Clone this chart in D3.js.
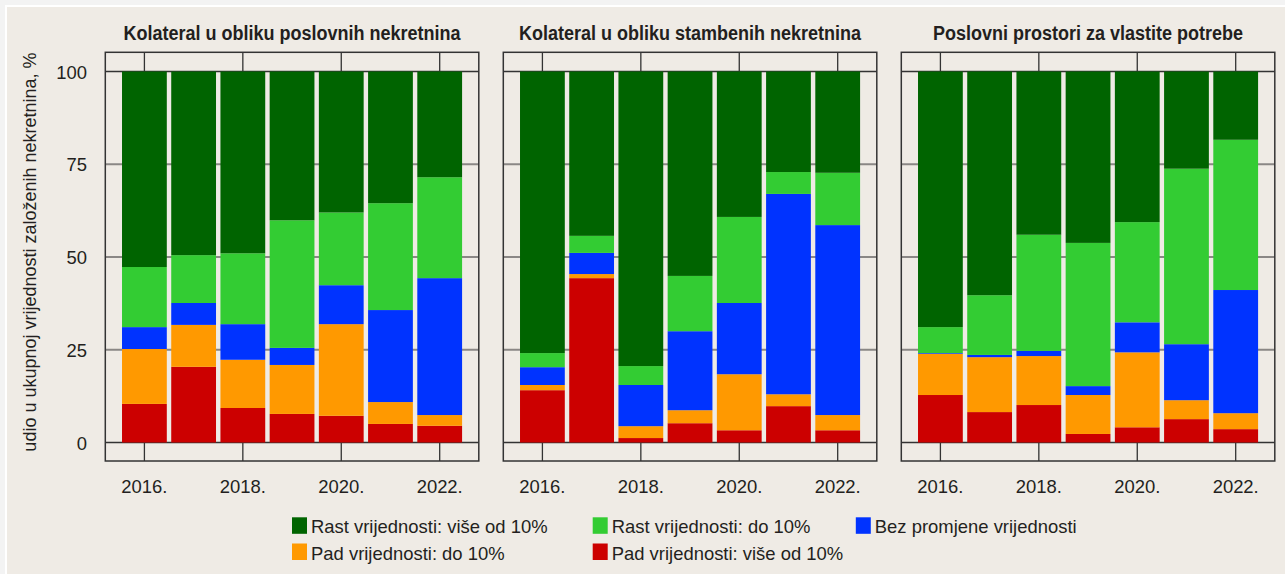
<!DOCTYPE html>
<html>
<head>
<meta charset="utf-8">
<script src="https://cdn.jsdelivr.net/npm/d3@7"></script>
<style>
  body { margin: 0; background: #f3f3f3; }
  svg { display: block; }
  text { font-family: 'Liberation Sans', Arial, sans-serif; fill: #231f20; }
</style>
</head>
<body>
<script>
// data, % share per category, bottom to top
var years = ["2016.", "2017.", "2018.", "2019.", "2020.", "2021.", "2022."];
var yTicks = [0, 25, 50, 75, 100];
var xTickYears = ["2016.", "2018.", "2020.", "2022."];

var panelTitles = [
  "Kolateral u obliku poslovnih nekretnina",
  "Kolateral u obliku stambenih nekretnina",
  "Poslovni prostori za vlastite potrebe"
];

var seriesNames = [
  "Pad vrijednosti: više od 10%",
  "Pad vrijednosti: do 10%",
  "Bez promjene vrijednosti",
  "Rast vrijednosti: do 10%",
  "Rast vrijednosti: više od 10%"
];
var seriesColors = ["#cc0000", "#ff9900", "#0033ff", "#33cc33", "#006400"];

// panel 1 - poslovne nekretnine
var p1Red    = [10.4, 20.4, 9.3, 7.7, 7.2, 5.0, 4.5];
var p1Orange = [14.8, 11.3, 13.0, 13.2, 24.7, 5.9, 2.9];
var p1Blue   = [5.9, 5.9, 9.6, 4.6, 10.5, 24.8, 36.9];
var p1LGreen = [16.2, 12.9, 19.1, 34.4, 19.6, 28.8, 27.2];
var p1DGreen = [52.7, 49.5, 49.0, 40.1, 38.0, 35.5, 28.5];

// panel 2 - stambene nekretnine
var p2Red    = [14.1, 44.3, 1.2, 5.2, 3.3, 9.8, 3.3];
var p2Orange = [1.4, 1.1, 3.2, 3.5, 15.1, 3.2, 4.1];
var p2Blue   = [4.8, 5.7, 11.1, 21.3, 19.2, 54.0, 51.2];
var p2LGreen = [3.8, 4.6, 5.1, 14.9, 23.2, 5.9, 14.1];
var p2DGreen = [75.9, 44.3, 79.4, 55.1, 39.2, 27.1, 27.3];

// panel 3 - poslovni prostori za vlastite potrebe
var p3Red    = [12.8, 8.2, 10.1, 2.3, 4.1, 6.3, 3.6];
var p3Orange = [11.1, 14.8, 13.2, 10.5, 20.2, 5.1, 4.3];
var p3Blue   = [0.2, 0.6, 1.4, 2.4, 8.1, 15.1, 33.2];
var p3LGreen = [7.0, 16.1, 31.3, 38.6, 27.0, 47.3, 40.5];
var p3DGreen = [68.9, 60.3, 44.0, 46.2, 40.6, 26.2, 18.4];

var panelsData = [
  [p1Red, p1Orange, p1Blue, p1LGreen, p1DGreen],
  [p2Red, p2Orange, p2Blue, p2LGreen, p2DGreen],
  [p3Red, p3Orange, p3Blue, p3LGreen, p3DGreen]
];

var width = 1285, height = 574;

var svg = d3.select("body").append("svg")
  .attr("width", width)
  .attr("height", height);

svg.append("rect")
  .attr("x", 5).attr("y", 5)
  .attr("width", width - 5).attr("height", height - 5)
  .attr("fill", "#ffffff");
svg.append("rect")
  .attr("x", 7).attr("y", 7)
  .attr("width", width - 7).attr("height", height - 7)
  .attr("fill", "#efebe5");

// squeeze text a little, the original uses a condensed face
var condense = function(sel, k) {
  sel.each(function() {
    var len = this.getComputedTextLength();
    d3.select(this).attr("textLength", len * k).attr("lengthAdjust", "spacingAndGlyphs");
  });
};

var panelW = 373.5;
var panelX = [105.3, 503.3, 901.3];
var frameTop = 52.3, frameBottom = 461;
var plotTop = 71.5, plotBottom = 442.5;

var y = d3.scaleLinear().domain([0, 100]).range([plotBottom, plotTop]);

panelsData.forEach(function(series, pi) {
  var x0 = panelX[pi];
  var g = svg.append("g");

  var x = d3.scaleBand()
    .domain(years)
    .range([x0 + 14.5, x0 + panelW - 14.5])
    .paddingInner(0.09)
    .paddingOuter(0.045);

  // rows for d3.stack
  var rows = years.map(function(yr, i) {
    var r = { year: yr };
    series.forEach(function(s, si) { r[si] = s[i]; });
    return r;
  });
  var stacked = d3.stack().keys(d3.range(series.length))(rows);

  // gridlines
  g.selectAll(".grid").data(yTicks).enter().append("line")
    .attr("x1", x0).attr("x2", x0 + panelW)
    .attr("y1", function(d) { return y(d); })
    .attr("y2", function(d) { return y(d); })
    .attr("stroke", function(d) { return (d === 0 || d === 100) ? "#333" : "#8a8785"; })
    .attr("stroke-width", function(d) { return (d === 0 || d === 100) ? 1.3 : 2; });

  // tick marks in the top and bottom strips
  xTickYears.forEach(function(yr) {
    var cx = x(yr) + x.bandwidth() / 2;
    g.append("line").attr("x1", cx).attr("x2", cx)
      .attr("y1", frameTop).attr("y2", plotTop)
      .attr("stroke", "#333").attr("stroke-width", 1.3);
    g.append("line").attr("x1", cx).attr("x2", cx)
      .attr("y1", plotBottom).attr("y2", frameBottom)
      .attr("stroke", "#333").attr("stroke-width", 1.3);
  });

  // bars
  g.selectAll(".layer").data(stacked).enter().append("g")
    .attr("fill", function(d, i) { return seriesColors[i]; })
    .selectAll("rect").data(function(d) { return d; }).enter().append("rect")
    .attr("x", function(d) { return x(d.data.year); })
    .attr("width", x.bandwidth())
    .attr("y", function(d) { return y(d[1]); })
    .attr("height", function(d) { return y(d[0]) - y(d[1]); });

  // frame
  g.append("rect")
    .attr("x", x0).attr("y", frameTop)
    .attr("width", panelW).attr("height", frameBottom - frameTop)
    .attr("fill", "none").attr("stroke", "#333").attr("stroke-width", 1.5);

  // title
  g.append("text")
    .attr("x", x0 + panelW / 2).attr("y", 39.5)
    .attr("text-anchor", "middle")
    .attr("font-size", 20).attr("font-weight", "bold")
    .text(panelTitles[pi])
    .call(condense, 0.9);

  // x labels
  g.selectAll(".xl").data(xTickYears).enter().append("text")
    .attr("x", function(d) { return x(d) + x.bandwidth() / 2; })
    .attr("y", 493)
    .attr("text-anchor", "middle")
    .attr("font-size", 19)
    .text(function(d) { return d; })
    .call(condense, 0.97);
});

// y labels, first panel only
svg.selectAll(".yl").data(yTicks).enter().append("text")
  .attr("x", 87).attr("y", function(d) { return y(d) + 7; })
  .attr("text-anchor", "end")
  .attr("font-size", 19)
  .text(function(d) { return d; })
  .call(condense, 0.97);

svg.append("text")
  .attr("transform", "translate(36,252) rotate(-90)")
  .attr("text-anchor", "middle")
  .attr("font-size", 18)
  .text("udio u ukupnoj vrijednosti založenih nekretnina, %");

// legend
var legendPos = [
  { i: 4, x: 292, y: 517.3 },
  { i: 3, x: 592.7, y: 517.3 },
  { i: 2, x: 855.8, y: 517.3 },
  { i: 1, x: 292, y: 543.5 },
  { i: 0, x: 592.7, y: 543.5 }
];
var leg = svg.selectAll(".leg").data(legendPos).enter().append("g");
leg.append("rect")
  .attr("x", function(d) { return d.x; }).attr("y", function(d) { return d.y; })
  .attr("width", 15).attr("height", 16.5)
  .attr("fill", function(d) { return seriesColors[d.i]; });
leg.append("text")
  .attr("x", function(d) { return d.x + 19; }).attr("y", function(d) { return d.y + 16; })
  .attr("font-size", 19)
  .text(function(d) { return seriesNames[d.i]; })
  .call(condense, 0.97);
</script>
</body>
</html>
